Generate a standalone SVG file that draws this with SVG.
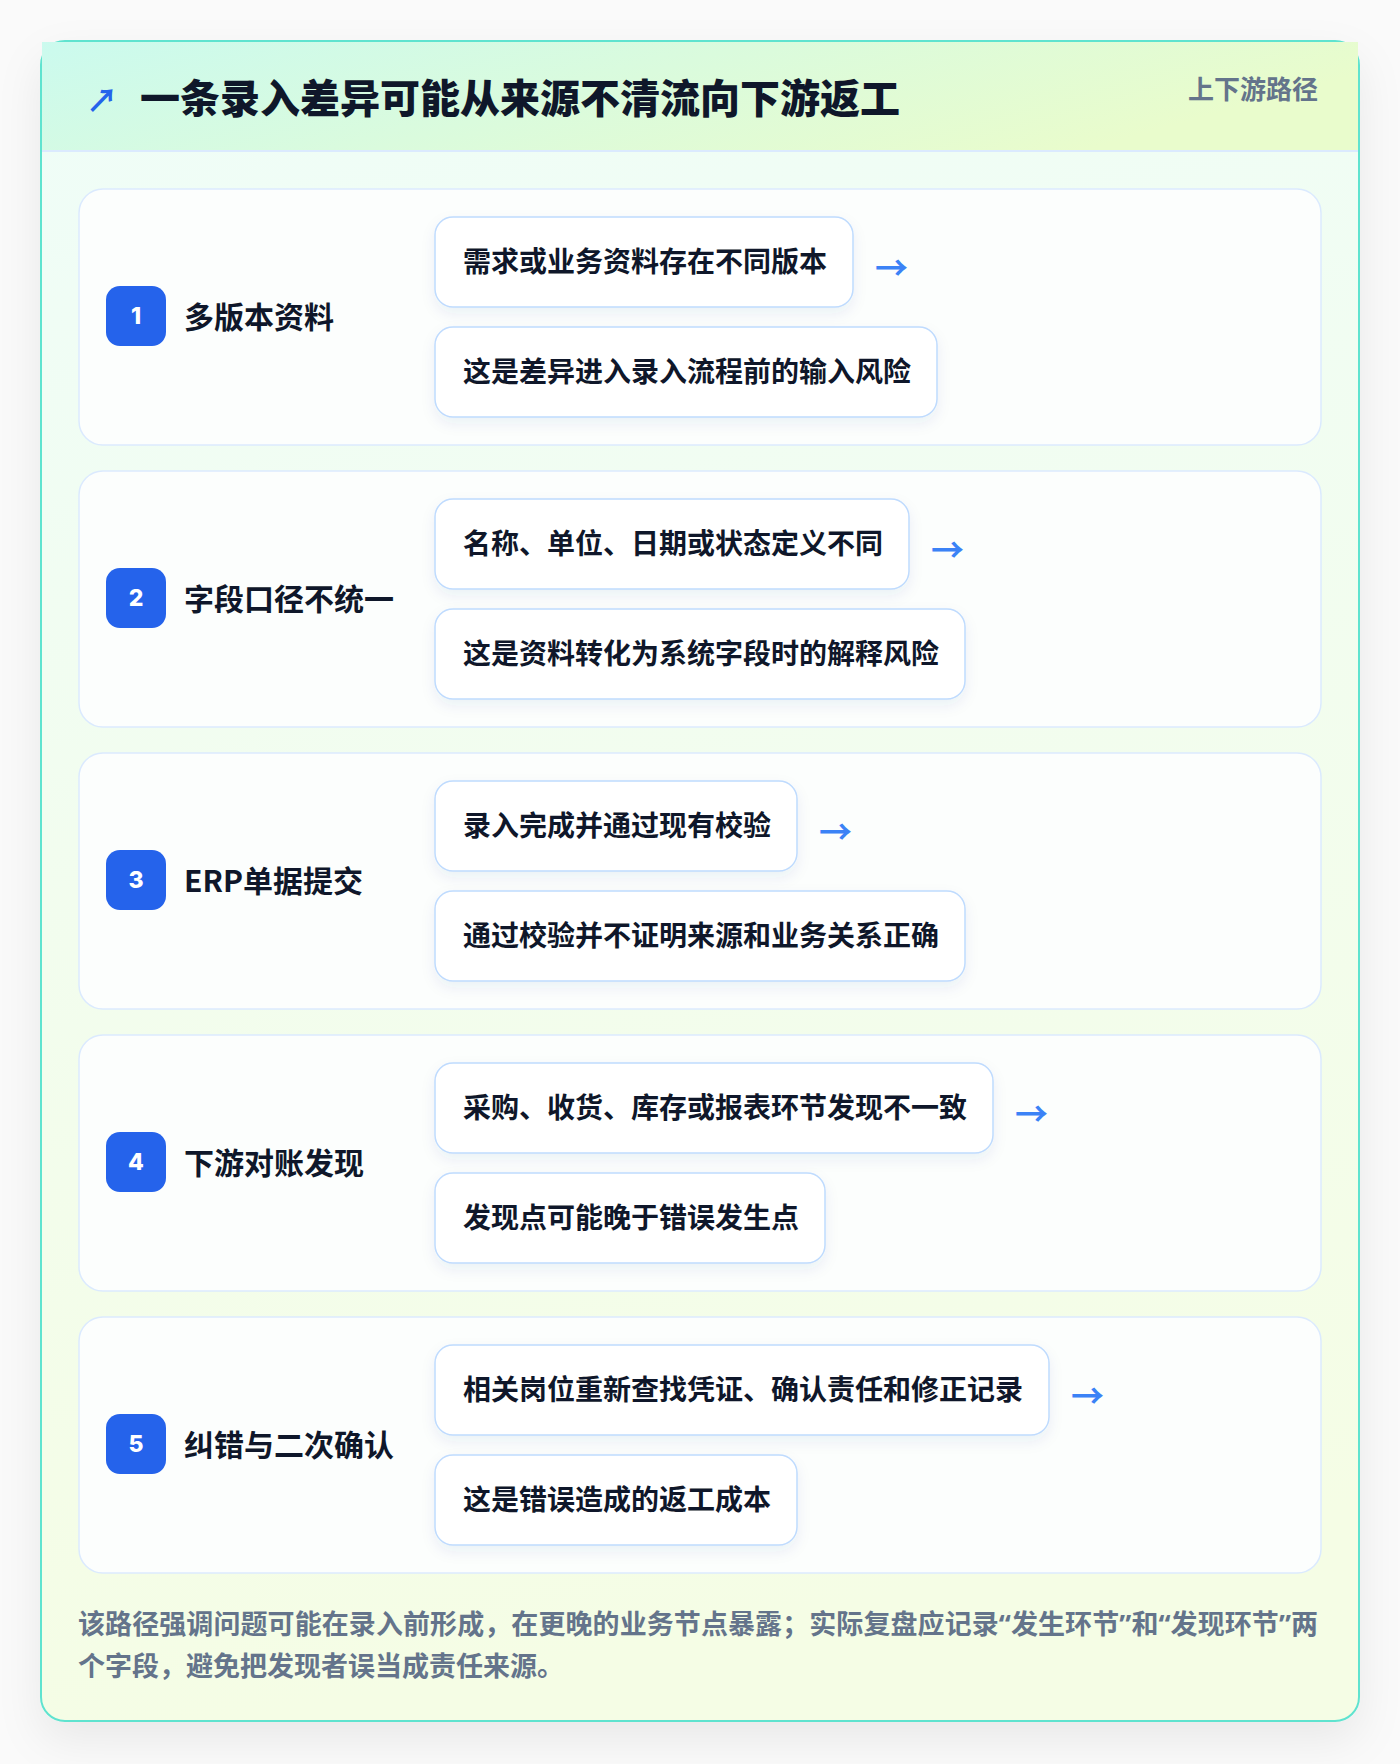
<svg xmlns="http://www.w3.org/2000/svg" width="1400" height="1764" viewBox="0 0 1400 1764">
<style>
text { font-family: "Noto Sans CJK SC", "Noto Sans", sans-serif; font-weight: 700; }
.title { font-size: 40px; fill: #0f172a; font-weight: 900; }
.tag { font-size: 26px; fill: #64748b; }
.row { fill: #fcfefd; stroke: #dbeafe; stroke-width: 1.5; }
.badge { fill: #2563eb; }
.num { font-size: 23px; fill: #ffffff; text-anchor: middle; font-family: "Inter", "Noto Sans", sans-serif; font-weight: 800; }
.label { font-size: 30px; fill: #0f172a; }
.box { fill: #ffffff; stroke: #bfdbfe; stroke-width: 1.5; filter: url(#boxShadow); }
.btxt { font-size: 28px; fill: #0f172a; }
.arr { font-size: 33px; fill: #3b82f6; font-weight: 700; }
.foot { font-size: 27px; fill: #64748b; }
.q { font-family: "Noto Sans", sans-serif; }
</style>
<defs>
<linearGradient id="headGrad" x1="0" y1="0" x2="1" y2="0.3">
<stop offset="0" stop-color="#cbfaee"/>
<stop offset="1" stop-color="#e9fccc"/>
</linearGradient>
<linearGradient id="bodyGrad" x1="0" y1="0" x2="0.15" y2="1">
<stop offset="0" stop-color="#effdf8"/>
<stop offset="1" stop-color="#f5fde5"/>
</linearGradient>
<filter id="cardShadow" x="-10%" y="-10%" width="120%" height="120%">
<feDropShadow dx="0" dy="18" stdDeviation="22" flood-color="#0f172a" flood-opacity="0.07"/>
</filter>
<filter id="boxShadow" x="-10%" y="-20%" width="120%" height="150%">
<feDropShadow dx="0" dy="6" stdDeviation="7" flood-color="#1e3a8a" flood-opacity="0.07"/>
</filter>
</defs>
<rect x="0" y="0" width="1400" height="1764" fill="#fafafa"/>
<g id="card">
<rect x="41" y="41" width="1318" height="1680" rx="24" fill="url(#bodyGrad)" stroke="#5fe3cf" stroke-width="2" filter="url(#cardShadow)"/>
</g>
<g id="header">
<rect x="42" y="42" width="1316" height="109" fill="url(#headGrad)"/>
<line x1="42" y1="151" x2="1358" y2="151" stroke="#dbeafe" stroke-width="2"/>
<text x="86" y="112" font-size="32" fill="#2563eb">↗</text>
<text class="title" x="140" y="113">一条录入差异可能从来源不清流向下游返工</text>
<text class="tag" x="1318" y="99" text-anchor="end">上下游路径</text>
</g>
<g id="row-1">
<rect class="row" x="79" y="189" width="1242" height="256" rx="24"/>
<rect class="badge" x="106" y="286" width="60" height="60" rx="14"/>
<text class="num" x="136" y="324">1</text>
<text class="label" x="184" y="328">多版本资料</text>
<rect class="box" x="435" y="217" width="418" height="90" rx="18"/>
<text class="btxt" x="463" y="272">需求或业务资料存在不同版本</text>
<rect class="box" x="435" y="327" width="502" height="90" rx="18"/>
<text class="btxt" x="463" y="382">这是差异进入录入流程前的输入风险</text>
</g>
<g id="row-2">
<rect class="row" x="79" y="471" width="1242" height="256" rx="24"/>
<rect class="badge" x="106" y="568" width="60" height="60" rx="14"/>
<text class="num" x="136" y="606">2</text>
<text class="label" x="184" y="610">字段口径不统一</text>
<rect class="box" x="435" y="499" width="474" height="90" rx="18"/>
<text class="btxt" x="463" y="554">名称、单位、日期或状态定义不同</text>
<rect class="box" x="435" y="609" width="530" height="90" rx="18"/>
<text class="btxt" x="463" y="664">这是资料转化为系统字段时的解释风险</text>
</g>
<g id="row-3">
<rect class="row" x="79" y="753" width="1242" height="256" rx="24"/>
<rect class="badge" x="106" y="850" width="60" height="60" rx="14"/>
<text class="num" x="136" y="888">3</text>
<text class="label" x="184" y="892">ERP单据提交</text>
<rect class="box" x="435" y="781" width="362" height="90" rx="18"/>
<text class="btxt" x="463" y="836">录入完成并通过现有校验</text>
<rect class="box" x="435" y="891" width="530" height="90" rx="18"/>
<text class="btxt" x="463" y="946">通过校验并不证明来源和业务关系正确</text>
</g>
<g id="row-4">
<rect class="row" x="79" y="1035" width="1242" height="256" rx="24"/>
<rect class="badge" x="106" y="1132" width="60" height="60" rx="14"/>
<text class="num" x="136" y="1170">4</text>
<text class="label" x="184" y="1174">下游对账发现</text>
<rect class="box" x="435" y="1063" width="558" height="90" rx="18"/>
<text class="btxt" x="463" y="1118">采购、收货、库存或报表环节发现不一致</text>
<rect class="box" x="435" y="1173" width="390" height="90" rx="18"/>
<text class="btxt" x="463" y="1228">发现点可能晚于错误发生点</text>
</g>
<g id="row-5">
<rect class="row" x="79" y="1317" width="1242" height="256" rx="24"/>
<rect class="badge" x="106" y="1414" width="60" height="60" rx="14"/>
<text class="num" x="136" y="1452">5</text>
<text class="label" x="184" y="1456">纠错与二次确认</text>
<rect class="box" x="435" y="1345" width="614" height="90" rx="18"/>
<text class="btxt" x="463" y="1400">相关岗位重新查找凭证、确认责任和修正记录</text>
<rect class="box" x="435" y="1455" width="362" height="90" rx="18"/>
<text class="btxt" x="463" y="1510">这是错误造成的返工成本</text>
</g>
<g id="connectors">
<text class="arr" x="875" y="280">→</text>
<text class="arr" x="931" y="562">→</text>
<text class="arr" x="819" y="844">→</text>
<text class="arr" x="1015" y="1126">→</text>
<text class="arr" x="1071" y="1408">→</text>
</g>
<g id="footer">
<text class="foot" x="78" y="1634" textLength="1240" lengthAdjust="spacing">该路径强调问题可能在录入前形成，在更晚的业务节点暴露；实际复盘应记录<tspan class="q">“</tspan>发生环节<tspan class="q">”</tspan>和<tspan class="q">“</tspan>发现环节<tspan class="q">”</tspan>两</text>
<text class="foot" x="78" y="1676">个字段，避免把发现者误当成责任来源。</text>
</g>
</svg>
